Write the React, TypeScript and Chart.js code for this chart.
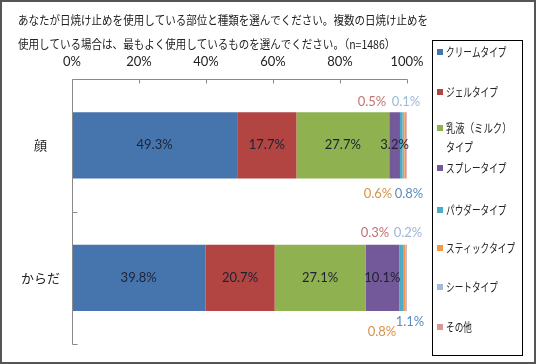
import React, { useEffect, useRef } from "react";
import { Chart, registerables } from "chart.js";

Chart.register(...registerables);

const titleLines = [
  "あなたが日焼け止めを使用している部位と種類を選んでください。複数の日焼け止めを",
  "使用している場合は、最もよく使用しているものを選んでください。（n=1486）",
];
const categories = ["顔", "からだ"];
const seriesNames = [
  "クリームタイプ",
  "ジェルタイプ",
  "乳液（ミルク）タイプ",
  "スプレータイプ",
  "パウダータイプ",
  "スティックタイプ",
  "シートタイプ",
  "その他",
];
const creamValues = [49.3, 39.8];
const gelValues = [17.7, 20.7];
const milkValues = [27.7, 27.1];
const sprayValues = [3.2, 10.1];
const powderValues = [0.8, 1.1];
const stickValues = [0.6, 0.8];
const sheetValues = [0.1, 0.2];
const otherValues = [0.5, 0.3];
const xTicks = [0, 20, 40, 60, 80, 100];

const seriesValues = [
  creamValues,
  gelValues,
  milkValues,
  sprayValues,
  powderValues,
  stickValues,
  sheetValues,
  otherValues,
];
const seriesColors = [
  "#4675AE",
  "#B24542",
  "#8FB150",
  "#73599A",
  "#4BACC6",
  "#F79646",
  "#A3BADA",
  "#D99694",
];
const labelColors = [
  "#1E2233",
  "#1E2233",
  "#1E2233",
  "#1E2233",
  "#5D8CBC",
  "#D6924C",
  "#9DB7D6",
  "#C07472",
];

const JP = '"Noto Sans CJK JP", sans-serif';
const NUM = 'Lato, "Open Sans", sans-serif';

// outside label placement for tiny segments, per category: offset from the 100% end and from the bar edge
const outside: Record<number, { dx: number; dy: number }[]> = {
  7: [
    { dx: -35, dy: -10 },
    { dx: -32, dy: -12 },
  ],
  6: [
    { dx: -1, dy: -10 },
    { dx: 1, dy: -12 },
  ],
  5: [
    { dx: -29, dy: 15 },
    { dx: -25, dy: 21 },
  ],
  4: [
    { dx: 2, dy: 15 },
    { dx: 3, dy: 11 },
  ],
};

function condensedText(
  ctx: CanvasRenderingContext2D,
  text: string,
  x: number,
  y: number,
  factor: number
) {
  const w = ctx.measureText(text).width;
  ctx.fillText(text, x, y, w * factor);
}

const decorPlugin = {
  id: "decor",
  beforeDraw(chart: any) {
    const ctx: CanvasRenderingContext2D = chart.ctx;
    ctx.save();
    ctx.fillStyle = "#ffffff";
    ctx.fillRect(0, 0, chart.width, chart.height);
    // title
    ctx.fillStyle = "#222";
    ctx.font = `12px ${JP}`;
    ctx.textAlign = "left";
    ctx.textBaseline = "middle";
    const w0 = ctx.measureText(titleLines[0]).width;
    const factor = 410 / w0;
    condensedText(ctx, titleLines[0], 18, 20, factor);
    condensedText(ctx, titleLines[1], 18, 44, factor);
    ctx.restore();
  },
  afterDatasetsDraw(chart: any) {
    const ctx: CanvasRenderingContext2D = chart.ctx;
    const xs = chart.scales.x;
    const ys = chart.scales.y;
    const area = chart.chartArea;
    ctx.save();
    // axes
    ctx.strokeStyle = "#8A8A8A";
    ctx.lineWidth = 1;
    const top = Math.round(area.top) + 0.5;
    const left = Math.round(area.left) + 0.5;
    const x100 = Math.round(xs.getPixelForValue(100)) + 0.5;
    ctx.beginPath();
    ctx.moveTo(left, top);
    ctx.lineTo(x100, top);
    for (const t of xTicks) {
      const px = Math.round(xs.getPixelForValue(t)) + 0.5;
      ctx.moveTo(px, top);
      ctx.lineTo(px, top + 4);
    }
    const bottom = Math.round(area.bottom) + 0.5;
    ctx.moveTo(left, top);
    ctx.lineTo(left, bottom);
    const n = categories.length;
    for (let i = 1; i <= n; i++) {
      const py = Math.round(ys.getPixelForValue(i - 0.5)) + 0.5;
      ctx.moveTo(left, py);
      ctx.lineTo(left + 5, py);
    }
    ctx.stroke();

    // data labels
    ctx.font = `13px ${NUM}`;
    ctx.textAlign = "center";
    ctx.textBaseline = "middle";
    chart.data.datasets.forEach((ds: any, di: number) => {
      const meta = chart.getDatasetMeta(di);
      meta.data.forEach((bar: any, ci: number) => {
        const v = ds.data[ci];
        const text = v.toFixed(1) + "%";
        ctx.fillStyle = labelColors[di];
        const place = outside[di];
        if (place) {
          const p = place[ci];
          const h = bar.height;
          const yRef = p.dy < 0 ? bar.y - h / 2 : bar.y + h / 2;
          ctx.fillText(text, xs.getPixelForValue(100) + p.dx, yRef + p.dy);
        } else {
          ctx.fillText(text, (bar.x + bar.base) / 2, bar.y);
        }
      });
    });

    // legend box
    const lx = 432.5,
      ly = 40.5,
      lw = 90,
      lh = 315;
    ctx.strokeStyle = "#000";
    ctx.strokeRect(lx, ly, lw, lh);
    const itemYs = [52, 92, 128, 168, 210, 248, 287, 327];
    ctx.font = `12px ${JP}`;
    ctx.textAlign = "left";
    ctx.textBaseline = "middle";
    seriesNames.forEach((name, i) => {
      const y = itemYs[i];
      ctx.fillStyle = seriesColors[i];
      ctx.fillRect(437, y - 3, 6, 6);
      ctx.fillStyle = "#222";
      if (name.length > 8) {
        const a = name.slice(0, 7);
        const b = name.slice(7);
        condensedText(ctx, a, 446, y, 0.78);
        condensedText(ctx, b, 446, y + 19, 0.75);
      } else {
        condensedText(ctx, name, 446, y, 0.72);
      }
    });

    // outer border
    ctx.strokeStyle = "#555";
    ctx.lineWidth = 2;
    ctx.strokeRect(1, 1, chart.width - 2, chart.height - 2);
    ctx.restore();
  },
};

export default function App() {
  const ref = useRef<HTMLCanvasElement | null>(null);
  useEffect(() => {
    document.body.style.margin = "0";
    const canvas = ref.current!;
    const chart = new Chart(canvas, {
      type: "bar",
      data: {
        labels: categories,
        datasets: seriesNames.map((name, i) => ({
          label: name,
          data: seriesValues[i],
          backgroundColor: seriesColors[i],
          borderWidth: 0,
          barPercentage: 0.5,
          categoryPercentage: 1,
        })),
      },
      options: {
        indexAxis: "y",
        animation: false,
        responsive: false,
        maintainAspectRatio: false,
        layout: { padding: { left: 20, right: 129, top: 49, bottom: 15 } },
        plugins: {
          legend: { display: false },
          tooltip: { enabled: false },
          title: { display: false },
        },
        scales: {
          x: {
            type: "linear",
            position: "top",
            stacked: true,
            min: 0,
            max: 100,
            afterBuildTicks: (scale: any) => {
              scale.ticks = xTicks.map((v) => ({ value: v }));
            },
            afterFit: (scale: any) => {
              scale.height = 30;
            },
            grid: { display: false, drawTicks: false },
            border: { display: false },
            ticks: {
              padding: 9,
              color: "#222",
              font: { family: NUM, size: 13 },
              callback: (v: any) => v + "%",
            },
          },
          y: {
            type: "category",
            stacked: true,
            afterFit: (scale: any) => {
              scale.width = 52;
            },
            grid: { display: false, drawTicks: false },
            border: { display: false },
            ticks: {
              padding: 12,
              crossAlign: "center",
              color: "#222",
              font: { family: JP, size: 13 },
            },
          },
        },
      },
      plugins: [decorPlugin],
    } as any);
    return () => chart.destroy();
  }, []);
  return (
    <canvas
      ref={ref}
      width={536}
      height={364}
      style={{ display: "block", width: 536, height: 364 }}
    />
  );
}
